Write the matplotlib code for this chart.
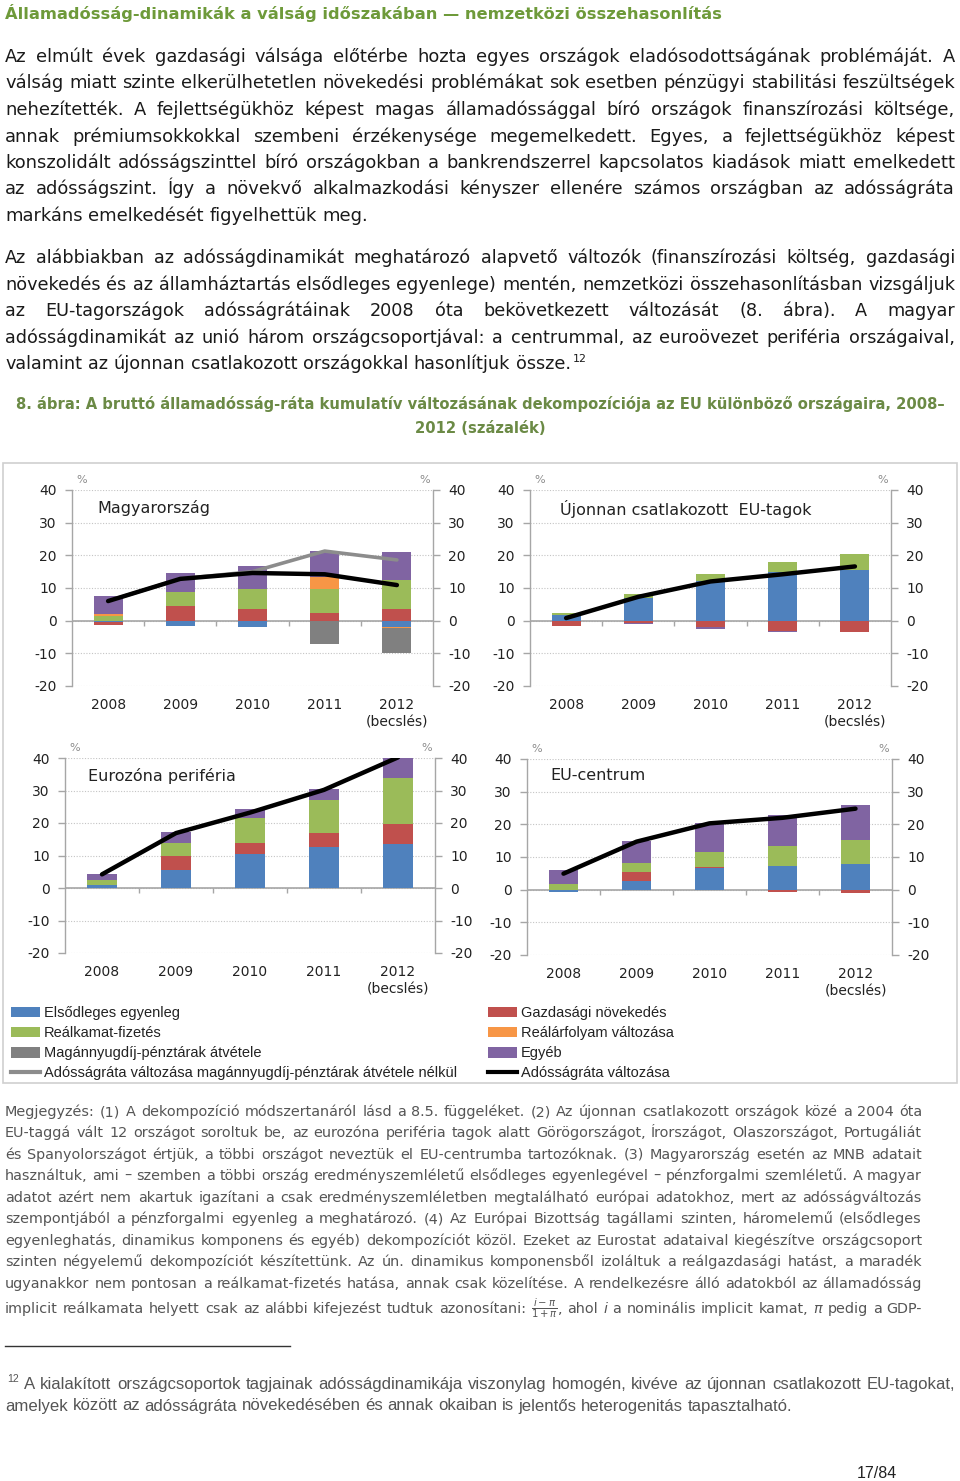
import re
import numpy as np
import matplotlib
matplotlib.use('Agg')
import matplotlib.pyplot as plt
from matplotlib.font_manager import FontProperties, fontManager
from matplotlib.patches import Rectangle, Patch
from matplotlib.lines import Line2D

plt.rcParams['mathtext.fontset'] = 'dejavusans'

# ---------------- data ----------------
years = ['2008', '2009', '2010', '2011', '2012\n(becslés)']
series_labels = ['Elsődleges egyenleg', 'Gazdasági növekedés', 'Reálkamat-fizetés',
                 'Reálárfolyam változása', 'Magánnyugdíj-pénztárak átvétele', 'Egyéb']
series_colors = ['#4f81bd', '#c0504d', '#9bbb59', '#f79646', '#808080', '#8064a2']
line_label_gray = 'Adósságráta változása magánnyugdíj-pénztárak átvétele nélkül'
line_label_black = 'Adósságráta változása'

# Magyarország
hu_elsodleges = [-0.5, -1.7, -2.0, 0.0, -1.8]
hu_novekedes = [-0.8, 4.5, 3.6, 2.2, 3.6]
hu_realkamat = [1.5, 4.2, 6.0, 7.6, 8.9]
hu_realarfolyam = [0.4, 0.0, 0.0, 3.7, -0.4]
hu_magannyugdij = [0.0, 0.0, 0.0, -7.0, -7.8]
hu_egyeb = [5.6, 5.8, 7.1, 7.7, 8.5]
hu_adossag = [6.0, 12.8, 14.6, 14.2, 10.9]
hu_adossag_nelkul = [6.0, 12.8, 15.0, 21.3, 18.6]

# Újonnan csatlakozott EU-tagok
uj_elsodleges = [1.8, 7.0, 12.0, 15.0, 15.6]
uj_novekedes = [-1.5, -0.6, -2.0, -3.2, -3.5]
uj_realkamat = [0.5, 1.2, 2.4, 2.9, 4.7]
uj_realarfolyam = [0, 0, 0, 0, 0]
uj_magannyugdij = [0, 0, 0, 0, 0]
uj_egyeb = [0.0, -0.4, -0.4, -0.4, 0.0]
uj_adossag = [0.8, 7.3, 12.0, 14.2, 16.6]

# Eurozóna periféria
per_elsodleges = [0.8, 5.6, 10.4, 12.7, 13.5]
per_novekedes = [0.0, 4.2, 3.6, 4.1, 6.2]
per_realkamat = [1.7, 4.0, 7.4, 10.3, 14.0]
per_realarfolyam = [0, 0, 0, 0, 0]
per_magannyugdij = [0, 0, 0, 0, 0]
per_egyeb = [1.9, 3.3, 2.8, 3.4, 6.3]
per_adossag = [4.2, 16.9, 23.2, 30.2, 40.2]

# EU-centrum
cen_elsodleges = [-0.8, 2.8, 6.5, 7.2, 7.9]
cen_novekedes = [0.0, 2.5, 0.5, -0.7, -0.9]
cen_realkamat = [1.7, 3.0, 4.5, 6.2, 7.2]
cen_realarfolyam = [0, 0, 0, 0, 0]
cen_magannyugdij = [0, 0, 0, 0, 0]
cen_egyeb = [4.3, 6.6, 9.0, 9.4, 10.7]
cen_adossag = [4.9, 14.7, 20.3, 22.0, 24.8]

y_ticks = [-20, -10, 0, 10, 20, 30, 40]

# ---------------- text ----------------
title_text = 'Államadósság-dinamikák a válság időszakában — nemzetközi összehasonlítás'
para1 = [
    ('Az elmúlt évek gazdasági válsága előtérbe hozta egyes országok eladósodottságának problémáját. A', True),
    ('válság miatt szinte elkerülhetetlen növekedési problémákat sok esetben pénzügyi stabilitási feszültségek', True),
    ('nehezítették. A fejlettségükhöz képest magas államadóssággal bíró országok finanszírozási költsége,', True),
    ('annak prémiumsokkokkal szembeni érzékenysége megemelkedett. Egyes, a fejlettségükhöz képest', True),
    ('konszolidált adósságszinttel bíró országokban a bankrendszerrel kapcsolatos kiadások miatt emelkedett', True),
    ('az adósságszint. Így a növekvő alkalmazkodási kényszer ellenére számos országban az adósságráta', True),
    ('markáns emelkedését figyelhettük meg.', False),
]
para2 = [
    ('Az alábbiakban az adósságdinamikát meghatározó alapvető változók (finanszírozási költség, gazdasági', True),
    ('növekedés és az államháztartás elsődleges egyenlege) mentén, nemzetközi összehasonlításban vizsgáljuk', True),
    ('az EU-tagországok adósságrátáinak 2008 óta bekövetkezett változását (8. ábra). A magyar', True),
    ('adósságdinamikát az unió három országcsoportjával: a centrummal, az euroövezet periféria országaival,', True),
    ('valamint az újonnan csatlakozott országokkal hasonlítjuk össze.«sup|12»', False),
]
caption1 = '8. ábra: A bruttó államadósság-ráta kumulatív változásának dekompozíciója az EU különböző országaira, 2008–'
caption2 = '2012 (százalék)'
notes = [
    ('Megjegyzés: (1) A dekompozíció módszertanáról lásd a 8.5. függeléket. (2) Az újonnan csatlakozott országok közé a 2004 óta', True),
    ('EU-taggá vált 12 országot soroltuk be, az eurozóna periféria tagok alatt Görögországot, Írországot, Olaszországot, Portugáliát', True),
    ('és Spanyolországot értjük, a többi országot neveztük el EU-centrumba tartozóknak. (3) Magyarország esetén az MNB adatait', True),
    ('használtuk, ami – szemben a többi ország eredményszemléletű elsődleges egyenlegével – pénzforgalmi szemléletű. A magyar', True),
    ('adatot azért nem akartuk igazítani a csak eredményszemléletben megtalálható európai adatokhoz, mert az adósságváltozás', True),
    ('szempontjából a pénzforgalmi egyenleg a meghatározó. (4) Az Európai Bizottság tagállami szinten, háromelemű (elsődleges', True),
    ('egyenleghatás, dinamikus komponens és egyéb) dekompozíciót közöl. Ezeket az Eurostat adataival kiegészítve országcsoport', True),
    ('szinten négyelemű dekompozíciót készítettünk. Az ún. dinamikus komponensből izoláltuk a reálgazdasági hatást, a maradék', True),
    ('ugyanakkor nem pontosan a reálkamat-fizetés hatása, annak csak közelítése. A rendelkezésre álló adatokból az államadósság', True),
    (r'implicit reálkamata helyett csak az alábbi kifejezést tudtuk azonosítani: «math|$\frac{i-\pi}{1+\pi}$», ahol «it|i» a nominális implicit kamat, «it|π» pedig a GDP-', True),
]
footnote = [
    ('«sup|12» A kialakított országcsoportok tagjainak adósságdinamikája viszonylag homogén, kivéve az újonnan csatlakozott EU-tagokat,', True),
    ('amelyek között az adósságráta növekedésében és annak okaiban is jelentős heterogenitás tapasztalható.', False),
]
page_no = '17/84'

# ---------------- setup ----------------
W, H = 960, 1481
fig = plt.figure(figsize=(W / 100, H / 100), dpi=100)
fig.patch.set_facecolor('white')
renderer = fig.canvas.get_renderer()

names = {f.name for f in fontManager.ttflist}
NARROW = 'Liberation Sans Narrow' if 'Liberation Sans Narrow' in names else 'Liberation Sans'
BODY = 'DejaVu Sans'


def fx(x):
    return x / W


def fy(y):
    return 1 - y / H


MARK = re.compile(r'«(\w+)\|(.*?)»')


def parse_word(word):
    segs, pos = [], 0
    for m in MARK.finditer(word):
        if m.start() > pos:
            segs.append(('n', word[pos:m.start()]))
        segs.append((m.group(1), m.group(2)))
        pos = m.end()
    if pos < len(word):
        segs.append(('n', word[pos:]))
    return segs


def seg_props(kind, size):
    if kind == 'sup':
        return dict(size=size * 0.62, style='normal', math=False, dy=size * 1.389 * 0.42, gap=2)
    if kind == 'it':
        return dict(size=size, style='italic', math=False, dy=0, gap=0)
    if kind == 'math':
        return dict(size=size * 1.0, style='normal', math=True, dy=0, gap=0)
    return dict(size=size, style='normal', math=False, dy=0, gap=0)


def text_w(text, size, family, style='normal', weight='normal', math=False):
    fp = FontProperties(family=family, size=size, style=style, weight=weight)
    w, h, d = renderer.get_text_width_height_descent(text, fp, ismath=math)
    return w


def token_width(segs, size, family, weight):
    tot = 0
    for kind, t in segs:
        p = seg_props(kind, size)
        tot += p['gap'] + text_w(t, p['size'], family, p['style'], weight, p['math'])
    return tot


def natural_width(line, size, family, weight='normal'):
    toks = [parse_word(w) for w in line.split(' ')]
    sp = text_w('a a', size, family, weight=weight) - text_w('aa', size, family, weight=weight)
    return sum(token_width(t, size, family, weight) for t in toks) + sp * (len(toks) - 1)


def draw_line(line, x0, x1, ybase, size, family, color, justify, weight='normal'):
    toks = [parse_word(w) for w in line.split(' ')]
    widths = [token_width(t, size, family, weight) for t in toks]
    sp = text_w('a a', size, family, weight=weight) - text_w('aa', size, family, weight=weight)
    if justify and len(toks) > 1:
        gap = (x1 - x0 - sum(widths)) / (len(toks) - 1)
    else:
        gap = sp
    x = x0
    for segs, w in zip(toks, widths):
        xx = x
        for kind, t in segs:
            p = seg_props(kind, size)
            xx += p['gap']
            fig.text(fx(xx), fy(ybase - p['dy']), t, fontsize=p['size'], family=family,
                     style=p['style'], weight=weight, color=color, ha='left', va='baseline')
            xx += text_w(t, p['size'], family, p['style'], weight, p['math'])
        x += w + gap


def block(lines, x0, x1, base0, step, family, color, weight='normal', fit=0.995):
    ref = 10.0
    nat = max(natural_width(l, ref, family, weight) for l, j in lines if j)
    size = ref * (x1 - x0) / nat * fit
    for i, (l, j) in enumerate(lines):
        draw_line(l, x0, x1, base0 + i * step, size, family, color, j, weight)
    return size


# ---------------- page text ----------------
tsize = 10 * 711 / text_w(title_text, 10, BODY, weight='bold')
fig.text(fx(5), fy(19), title_text, fontsize=tsize, family=BODY, weight='bold',
         color='#6e9a3a', ha='left', va='baseline')

block(para1, 5, 955, 62, 26.5, BODY, '#1a1a1a')
block(para2, 5, 955, 263, 26.6, BODY, '#1a1a1a')

csize = 10 * 933 / text_w(caption1, 10, BODY, weight='bold')
fig.text(fx(480), fy(409), caption1, fontsize=csize, family=BODY, weight='bold',
         color='#6b8a45', ha='center', va='baseline')
fig.text(fx(480), fy(433), caption2, fontsize=csize, family=BODY, weight='bold',
         color='#6b8a45', ha='center', va='baseline')

block(notes[:9], 5, 922, 1116, 21.45, BODY, '#555555')
nsize = 10 * (922 - 5) / max(natural_width(l, 10, BODY) for l, j in notes[:9]) * 0.995
draw_line(notes[9][0], 5, 922, 1313, nsize, BODY, '#555555', True)

fig.add_artist(Line2D([fx(5), fx(290)], [fy(1346), fy(1346)], color='#333333', lw=1,
                      transform=fig.transFigure))
block(footnote, 5, 955, 1389, 21.5, NARROW, '#555555')
fig.text(fx(897), fy(1478), page_no, fontsize=11.5, family=NARROW, color='#222222',
         ha='right', va='baseline')

# ---------------- chart frame ----------------
fig.add_artist(Rectangle((fx(3), fy(1083)), 954 / W, 620 / H, transform=fig.transFigure,
                         fill=False, ec='#cfcfcf', lw=1.2))

AX_GRAY = '#a6a6a6'
x = np.arange(len(years))


def panel(rect, title, title_xy, series, line_black, line_gray=None):
    l, t, r, b = rect
    ax = fig.add_axes([fx(l), fy(b), (r - l) / W, (b - t) / H])
    ax.set_xlim(-0.5, len(years) - 0.5)
    ax.set_ylim(y_ticks[0], y_ticks[-1])
    pos = np.zeros(len(years))
    neg = np.zeros(len(years))
    for vals, col in zip(series, series_colors):
        v = np.asarray(vals, dtype=float)
        bottom = np.where(v >= 0, pos, neg)
        ax.bar(x, v, bottom=bottom, width=0.4, color=col, linewidth=0, zorder=3)
        pos += np.where(v > 0, v, 0)
        neg += np.where(v < 0, v, 0)
    if line_gray is not None:
        ax.plot(x, line_gray, color='#8c8c8c', lw=2.6, zorder=4, solid_capstyle='round')
    ax.plot(x, line_black, color='black', lw=3.2, zorder=5, solid_capstyle='round')
    ax.axhline(0, color=AX_GRAY, lw=1.2, zorder=2)
    ax.vlines(x[:-1] + 0.5, -1.6, 0, color=AX_GRAY, lw=1.0, zorder=2)
    ax.set_yticks(y_ticks)
    ax.set_yticklabels([str(v) for v in y_ticks])
    ax.yaxis.grid(True, linestyle=(0, (1, 1.5)), color='#c4c4c4', lw=0.8)
    ax.set_axisbelow(True)
    ax.tick_params(axis='y', direction='out', length=5, width=1, color=AX_GRAY, pad=6,
                   labelsize=10, labelcolor='#222222', left=True, right=True,
                   labelleft=True, labelright=True)
    ax.set_xticks(x)
    ax.set_xticklabels(years, linespacing=1.25)
    ax.tick_params(axis='x', length=0, pad=9, labelsize=10, labelcolor='#222222')
    for s in ('top', 'bottom'):
        ax.spines[s].set_visible(False)
    for s in ('left', 'right'):
        ax.spines[s].set_color(AX_GRAY)
        ax.spines[s].set_linewidth(1.0)
    ax.patch.set_alpha(0)
    fig.text(fx(l + 10), fy(t - 10), '%', fontsize=8, color='#8c8c8c', ha='center', va='center')
    fig.text(fx(r - 8), fy(t - 10), '%', fontsize=8, color='#8c8c8c', ha='center', va='center')
    fig.text(fx(title_xy[0]), fy(title_xy[1]), title, fontsize=11.5, color='#222222',
             ha='left', va='center')
    return ax


panel((72, 490, 433, 686), 'Magyarország', (97, 508),
      [hu_elsodleges, hu_novekedes, hu_realkamat, hu_realarfolyam, hu_magannyugdij, hu_egyeb],
      hu_adossag, hu_adossag_nelkul)
panel((530, 490, 891, 686), 'Újonnan csatlakozott  EU-tagok', (560, 509),
      [uj_elsodleges, uj_novekedes, uj_realkamat, uj_realarfolyam, uj_magannyugdij, uj_egyeb],
      uj_adossag)
panel((65, 758, 435, 953), 'Eurozóna periféria', (88, 776),
      [per_elsodleges, per_novekedes, per_realkamat, per_realarfolyam, per_magannyugdij, per_egyeb],
      per_adossag)
panel((527, 759, 892, 955), 'EU-centrum', (550, 776),
      [cen_elsodleges, cen_novekedes, cen_realkamat, cen_realarfolyam, cen_magannyugdij, cen_egyeb],
      cen_adossag)

# ---------------- legend ----------------
left_idx = [0, 2, 4]
right_idx = [1, 3, 5]
lh = [Patch(facecolor=series_colors[i], edgecolor='none') for i in left_idx] + \
     [Line2D([], [], color='#8c8c8c', lw=3)]
ll = [series_labels[i] for i in left_idx] + [line_label_gray]
rh = [Patch(facecolor=series_colors[i], edgecolor='none') for i in right_idx] + \
     [Line2D([], [], color='black', lw=3)]
rl = [series_labels[i] for i in right_idx] + [line_label_black]
leg_kw = dict(loc='upper left', frameon=False, borderpad=0, borderaxespad=0,
              handlelength=2.0, handleheight=0.75, handletextpad=0.25, labelspacing=0.42,
              prop=FontProperties(family=NARROW, size=10.5), labelcolor='#222222')
fig.legend(lh, ll, bbox_to_anchor=(fx(11), fy(1006)), **leg_kw)
fig.legend(rh, rl, bbox_to_anchor=(fx(488), fy(1006)), **leg_kw)

fig.savefig('out.png', dpi=100, facecolor='white')
